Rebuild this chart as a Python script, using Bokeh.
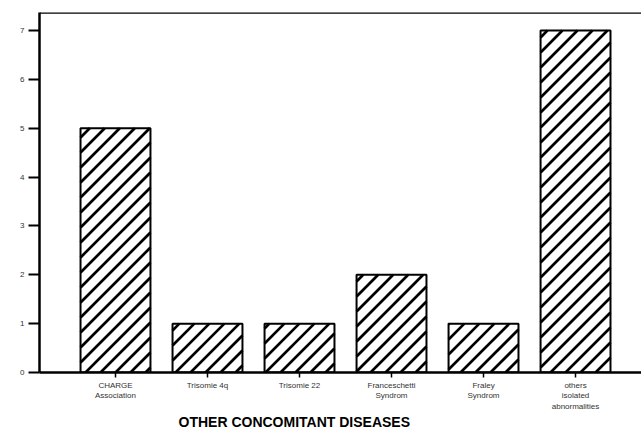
from bokeh.plotting import figure
from bokeh.models import FixedTicker, Span, Title
from bokeh.embed import file_html
from bokeh.resources import INLINE

categories = ["CHARGE\nAssociation", "Trisomie 4q", "Trisomie 22",
              "Franceschetti\nSyndrom", "Fraley\nSyndrom",
              "others\nisolated\nabnormalities"]
counts = [5, 1, 1, 2, 1, 7]
y_ticks = [0, 1, 2, 3, 4, 5, 6, 7]
x_title = "OTHER CONCOMITANT DISEASES"

xs = list(range(len(categories)))
BAR_W = 0.76
X0, X1 = -0.826, 5.717
Y0, Y1 = 0, 7.37
W, H = 641, 429
ML, MT, MB = 39, 12, 57

# hatch stripes (45 degrees on screen) computed from the bar data
sx = (W - ML) / (X1 - X0)           # px per x unit
sy = (H - MT - MB) / (Y1 - Y0)      # px per y unit
P = 15.0                            # horizontal stripe period in px
sx0, sy0, sx1, sy1 = [], [], [], []
for xi, c in zip(xs, counts):
    u0, u1 = (xi - BAR_W / 2) * sx, (xi + BAR_W / 2) * sx
    v0, v1 = 0.0, c * sy
    k0 = int((u0 - v1) // P) - 1
    k1 = int((u1 - v0) // P) + 1
    for k in range(k0, k1 + 1):
        off = k * P
        us = max(u0, v0 + off)
        ue = min(u1, v1 + off)
        if ue - us > 0.5:
            sx0.append(us / sx); sy0.append((us - off) / sy)
            sx1.append(ue / sx); sy1.append((ue - off) / sy)

p = figure(width=W, height=H, output_backend="svg", toolbar_location=None,
           x_range=(X0, X1), y_range=(Y0, Y1),
           min_border_left=ML, min_border_top=MT, min_border_right=0,
           min_border_bottom=MB)
p.outline_line_color = None
p.grid.visible = False
p.background_fill_color = "white"

p.vbar(x=xs, top=counts, width=BAR_W, bottom=0,
       fill_color="white", line_color=None)
p.segment(x0=sx0, y0=sy0, x1=sx1, y1=sy1, line_color="black",
          line_width=2.7, line_cap="butt")
p.vbar(x=xs, top=counts, width=BAR_W, bottom=0,
       fill_color=None, line_color="black", line_width=2)

top = Span(location=Y1, dimension="width", line_color="black", line_width=2.5)
p.add_layout(top)

ya = p.yaxis[0]
ya.ticker = FixedTicker(ticks=y_ticks)
ya.axis_line_width = 2.5
ya.major_tick_line_width = 2
ya.major_tick_out = 11
ya.major_tick_in = 0
ya.minor_tick_line_color = None
ya.major_label_text_font = "Liberation Sans"
ya.major_label_text_font_size = "8px"
ya.major_label_text_color = "#333333"
ya.major_label_standoff = 4

xa = p.xaxis[0]
xa.ticker = FixedTicker(ticks=xs)
xa.major_label_overrides = {i: c for i, c in zip(xs, categories)}
xa.axis_line_width = 2.5
xa.major_tick_line_width = 1.5
xa.major_tick_out = 5
xa.major_tick_in = 0
xa.minor_tick_line_color = None
xa.major_label_text_font = "Liberation Sans"
xa.major_label_text_font_size = "8px"
xa.major_label_text_color = "#333333"
xa.major_label_standoff = 3

t = Title(text=x_title, align="left", offset=139, text_font="Liberation Sans",
          text_font_style="bold", text_font_size="14px", text_color="black",
          standoff=-5)
p.add_layout(t, "below")

open("out.html", "w").write(file_html(p, INLINE))
